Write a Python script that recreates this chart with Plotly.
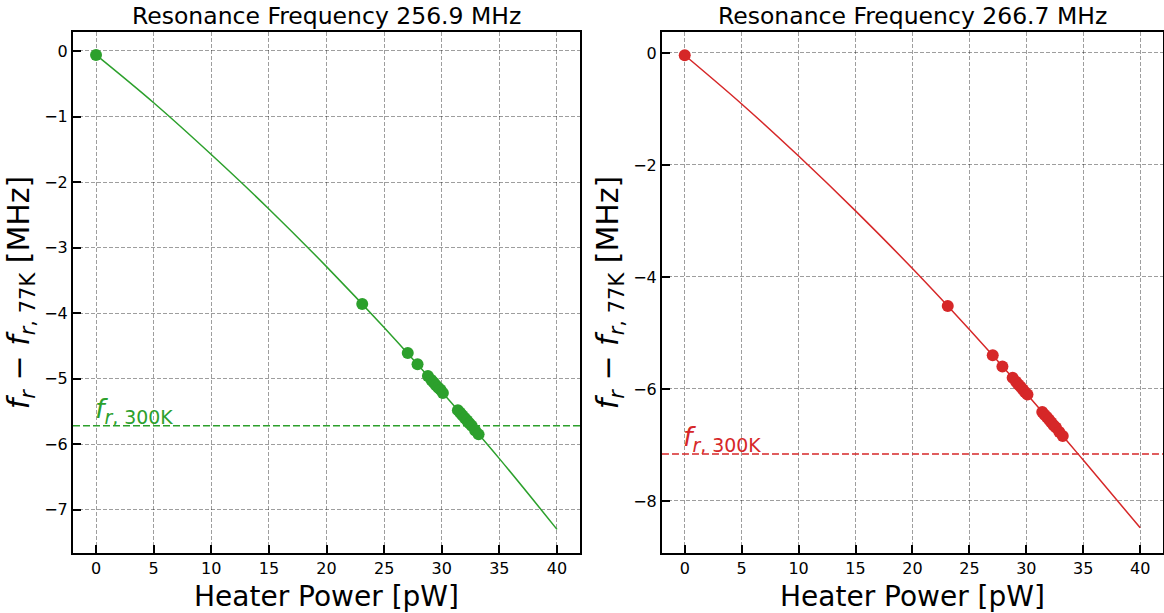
import plotly.graph_objects as go

# ---- data ----
power_pts = [0, 23.1, 27.05, 27.9, 28.8, 29.1, 29.3, 29.5, 29.7, 29.9, 30.1,
             31.4, 31.6, 31.8, 32.0, 32.2, 32.4, 32.6, 32.9, 33.2]
shift_a_pts = [-0.06, -3.86, -4.61, -4.78, -4.96, -5.02, -5.06, -5.10, -5.14, -5.17, -5.22,
               -5.48, -5.52, -5.56, -5.60, -5.64, -5.68, -5.72, -5.79, -5.85]
shift_b_pts = [-0.04, -4.52, -5.40, -5.60, -5.80, -5.87, -5.92, -5.96, -6.01, -6.06, -6.10,
               -6.41, -6.46, -6.50, -6.55, -6.60, -6.65, -6.69, -6.77, -6.84]

power_curve = [0, 5, 10, 15, 20, 25, 30, 35, 40]
shift_a_curve = [-0.06, -0.79, -1.58, -2.41, -3.29, -4.22, -5.20, -6.22, -7.30]
shift_b_curve = [-0.04, -0.91, -1.84, -2.82, -3.85, -4.94, -6.08, -7.27, -8.48]

f300_a = -5.72
f300_b = -7.16

titles = ["Resonance Frequency 256.9 MHz", "Resonance Frequency 266.7 MHz"]
x_ticks = [0, 5, 10, 15, 20, 25, 30, 35, 40]
y_ticks_a = [0, -1, -2, -3, -4, -5, -6, -7]
y_ticks_b = [0, -2, -4, -6, -8]

GREEN = "#2ca02c"
RED = "#d62728"
FONT = "DejaVu Sans"

def fmt(v):
    return str(v).replace("-", "\u2212")

fig = go.Figure()

for i, (yc, yp, col, h) in enumerate([(shift_a_curve, shift_a_pts, GREEN, f300_a),
                                        (shift_b_curve, shift_b_pts, RED, f300_b)]):
    xa = "x" if i == 0 else "x2"
    ya = "y" if i == 0 else "y2"
    fig.add_trace(go.Scatter(x=power_curve, y=yc, mode="lines",
                             line=dict(color=col, width=1.5, shape="spline"),
                             xaxis=xa, yaxis=ya, showlegend=False))
    fig.add_trace(go.Scatter(x=power_pts, y=yp, mode="markers",
                             marker=dict(color=col, size=12, line=dict(width=0)),
                             xaxis=xa, yaxis=ya, showlegend=False))
    fig.add_trace(go.Scatter(x=[-2, 42], y=[h, h], mode="lines",
                             line=dict(color=col, width=1.5, dash="7px,3px"),
                             xaxis=xa, yaxis=ya, showlegend=False))
    fig.add_annotation(x=-0.3, y=h, xref=xa, yref=ya, xanchor="left", yanchor="bottom",
                       text="<i>f</i><sub><i>r</i>, 300K</sub>", showarrow=False,
                       font=dict(family=FONT, size=27, color=col), yshift=-4)

axis_common = dict(
    showline=True, linecolor="black", linewidth=2, mirror=True,
    ticks="inside", ticklen=8, tickwidth=1.5, tickcolor="black",
    showgrid=True, gridcolor="rgba(0,0,0,0.38)", gridwidth=1, griddash="4px,2px",
    zeroline=False, tickfont=dict(family=FONT, size=16, color="black"),
    automargin=False,
)

ytitle = "<i>f<sub>r</sub></i> \u2212 <i>f</i><sub><i>r</i>, 77K</sub> [MHz]"
xtitle = "Heater Power [pW]"

fig.update_layout(
    width=1164, height=613,
    margin=dict(l=0, r=0, t=0, b=0),
    paper_bgcolor="white", plot_bgcolor="white",
    xaxis=dict(domain=[0.0627, 0.4983], range=[-2, 42], tickvals=x_ticks,
               ticktext=[fmt(v) for v in x_ticks], anchor="y",
               title=dict(text=xtitle, font=dict(family=FONT, size=28, color="black"), standoff=10),
               **axis_common),
    yaxis=dict(domain=[0.0979, 0.9478], range=[-7.66, 0.29], tickvals=y_ticks_a,
               ticktext=[fmt(v) for v in y_ticks_a], anchor="x",
               title=dict(text=ytitle, font=dict(family=FONT, size=30, color="black"), standoff=6),
               **axis_common),
    xaxis2=dict(domain=[0.5687, 0.9991], range=[-2, 42], tickvals=x_ticks,
                ticktext=[fmt(v) for v in x_ticks], anchor="y2",
                title=dict(text=xtitle, font=dict(family=FONT, size=28, color="black"), standoff=10),
                **axis_common),
    yaxis2=dict(domain=[0.0979, 0.9478], range=[-8.93, 0.375], tickvals=y_ticks_b,
                ticktext=[fmt(v) for v in y_ticks_b], anchor="x2",
                title=dict(text=ytitle, font=dict(family=FONT, size=30, color="black"), standoff=6),
                **axis_common),
)

for t, xd in zip(titles, [(0.0627 + 0.4983) / 2, (0.5687 + 0.9991) / 2]):
    fig.add_annotation(x=xd, y=0.9478, xref="paper", yref="paper", xanchor="center",
                       yanchor="bottom", text=t, showarrow=False, yshift=0,
                       font=dict(family=FONT, size=23.5, color="black"))

fig.write_html("out.html")
